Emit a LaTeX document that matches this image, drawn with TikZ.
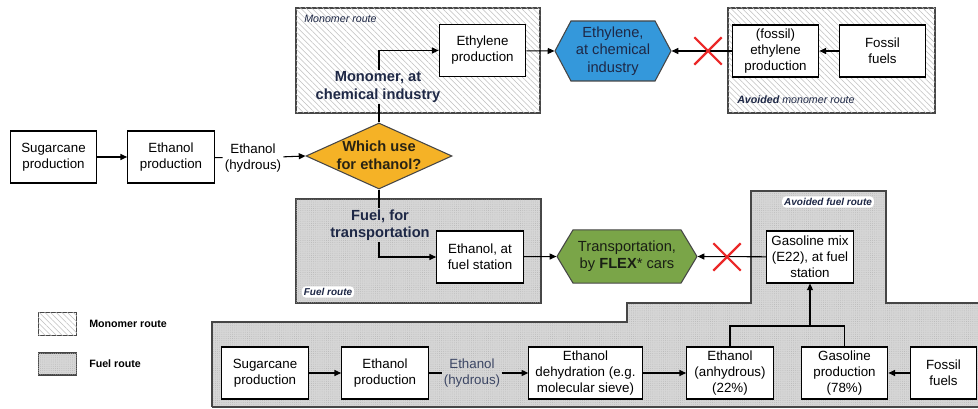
\documentclass[tikz,border=0pt]{standalone}
\usepackage{fontspec}
\setmainfont{Liberation Sans}
\usetikzlibrary{shapes.geometric,shapes.symbols,shapes.misc,patterns.meta,arrows.meta}
\definecolor{ethblue}{RGB}{52,152,219}
\definecolor{flexgreen}{RGB}{122,165,72}
\definecolor{decorange}{RGB}{245,178,38}
\definecolor{fuelgray}{RGB}{214,214,214}
\definecolor{framegray}{RGB}{70,70,70}
\definecolor{navy}{RGB}{30,40,70}
\definecolor{xred}{RGB}{235,40,40}
\begin{document}
\begin{tikzpicture}[x=0.75pt,y=-0.75pt,
  every node/.style={font=\fontsize{10}{12}\selectfont},
  procbox/.style={draw=black, fill=white, line width=0.8pt, minimum width=65pt,
    minimum height=39pt, align=center, inner sep=1pt},
  flow/.style={line width=0.8pt, -{Triangle[length=5pt,width=4.5pt]}},
  plain/.style={line width=0.8pt},
  monoregion/.style={draw=framegray, line width=0.8pt, fill=white,
    postaction={pattern={Lines[angle=-45,distance=3pt,line width=0.4pt]}, pattern color=gray!50}},
  fuelregion/.style={fill=fuelgray,
    postaction={pattern={Dots[distance=1.6pt,radius=0.3pt]}, pattern color=gray!60}},
  steplabel/.style={align=center, inner sep=1pt, text=navy,
    font=\bfseries\fontsize{11}{13}\selectfont},
  flowtext/.style={align=center, inner sep=1.5pt},
  routetag/.style={fill=white, rounded corners=3pt, inner sep=1.5pt, text=navy,
    font=\bfseries\itshape\fontsize{7.5}{9}\selectfont},
  redx/.style={cross out, draw=xred, line width=1.6pt, minimum width=19pt,
    minimum height=19pt, inner sep=0pt},
  legtext/.style={anchor=west, inner sep=0pt, font=\bfseries\fontsize{8}{10}\selectfont}
]
\useasboundingbox (0,0) rectangle (978,409);

% ---------- regions ----------
\draw[monoregion] (296,8) rectangle (540,113);
\draw[monoregion] (728,8) rectangle (935,113);
\draw[fuelregion, draw=framegray, line width=0.8pt] (296,199) rectangle (541,303);
\fill[fuelregion] (212,322) -- (627,322) -- (627,303) -- (751,303) -- (751,191)
  -- (886,191) -- (886,303) -- (978,303) -- (978,407) -- (212,407) -- cycle;
\draw[framegray, line width=0.8pt] (978,303) -- (886,303) -- (886,191) -- (751,191)
  -- (751,303) -- (627,303) -- (627,322) -- (212,322) -- (212,407);
\draw[framegray, line width=1.6pt] (212,407) -- (978,407);

% region tags
\node[anchor=west, inner sep=0pt, text=navy, font=\itshape\fontsize{8}{10}\selectfont]
  (tagmono) at (304,19) {Monomer route};
\node[anchor=west, inner sep=0pt, text=navy, font=\itshape\fontsize{8}{10}\selectfont]
  (tagavmono) at (737,100) {\textbf{Avoided} monomer route};
\node[routetag] (tagfuel) at (328,292) {Fuel route};
\node[routetag] (tagavfuel) at (828,202) {Avoided fuel route};

% ---------- top row ----------
\node[procbox] (sug1) at (53.5,157) {Sugarcane\\production};
\node[procbox] (eth1) at (171,157) {Ethanol\\production};
\node[flowtext] (hyd1) at (253,158) {Ethanol\\(hydrous)};
\node[diamond, draw=framegray, fill=decorange, line width=0.8pt, minimum width=109.5pt,
  minimum height=49.5pt, inner sep=0pt] (dia) at (379,156) {};
\node[align=center, inner sep=0pt, text={rgb,255:red,40;green,35;blue,20},
  font=\bfseries\fontsize{11}{13.5}\selectfont] (diatxt) at (379,155) {Which use\\for ethanol?};

\node[steplabel] (monlab) at (378,87) {Monomer, at\\chemical industry};
\node[steplabel] (fuellab) at (380,225) {Fuel, for\\transportation};

\node[procbox] (ethprod) at (482.5,50.5) {Ethylene\\production};
\node[signal, signal to=east and west, signal pointer angle=124, draw=framegray,
  fill=ethblue, line width=0.8pt, minimum width=87pt, minimum height=45pt, inner sep=0pt,
  align=center, text=navy, font=\fontsize{11}{13}\selectfont] (ethhex) at (613,51)
  {Ethylene,\\at chemical\\industry};
\node[procbox] (fosseth) at (775.5,51) {(fossil)\\ethylene\\production};
\node[procbox] (foss1) at (882.5,51) {Fossil\\fuels};

\node[procbox] (ethfs) at (480,257) {Ethanol, at\\fuel station};
\node[signal, signal to=east and west, signal pointer angle=118, draw=framegray,
  fill=flexgreen, line width=0.8pt, minimum width=105pt, minimum height=40pt, inner sep=0pt,
  align=center, text={rgb,255:red,25;green,30;blue,20}, font=\fontsize{11}{13}\selectfont]
  (flexhex) at (627,256.5) {Transportation,\\by \textbf{FLEX}* cars};
\node[procbox] (gasmix) at (810,257) {Gasoline mix\\(E22), at fuel\\station};

% ---------- bottom row ----------
\node[procbox] (sug2) at (265,373) {Sugarcane\\production};
\node[procbox] (eth2) at (385,373) {Ethanol\\production};
\node[flowtext, text={rgb,255:red,60;green,70;blue,100}] (hyd2) at (472,373) {Ethanol\\(hydrous)};
\node[procbox, minimum width=85pt] (dehyd) at (585.5,373) {Ethanol\\dehydration (e.g.\\molecular sieve)};
\node[procbox] (anhyd) at (730,373) {Ethanol\\(anhydrous)\\(22\%)};
\node[procbox] (gasprod) at (844.5,373) {Gasoline\\production\\(78\%)};
\node[procbox, minimum width=50pt] (foss2) at (943.5,373) {Fossil\\fuels};
\coordinate (jn) at (810,326);

% ---------- legend ----------
\node[monoregion, minimum width=29pt, minimum height=17.5pt, inner sep=0pt] (legmono) at (57.5,324) {};
\node[legtext] (legmonotxt) at (89,324) {Monomer route};
\node[fuelregion, draw=framegray, line width=0.8pt, minimum width=29pt, minimum height=16.5pt,
  inner sep=0pt] (legfuel) at (57.5,364) {};
\node[legtext] (legfueltxt) at (89,364) {Fuel route};

% ---------- connectors ----------
\draw[flow] (sug1) -- (eth1);
\draw[plain] (eth1) -- (hyd1);
\draw[flow] (hyd1) -- (dia.west);
\draw[plain] (dia.north) -- (dia.north |- monlab.south);
\draw[flow] (dia.north |- monlab.north) |- (ethprod.west);
\draw[flow] (ethprod) -- (ethhex.west);
\draw[flow] (fosseth) -- (ethhex.east);
\draw[flow] (foss1) -- (fosseth);
\draw[plain] (dia.south) -- (dia.south |- fuellab.north);
\draw[flow] (dia.south |- fuellab.south) |- (ethfs.west);
\draw[flow] (ethfs) -- (flexhex.west);
\draw[flow] (gasmix) -- (flexhex.east);

\draw[flow] (sug2) -- (eth2);
\draw[plain] (eth2) -- (hyd2);
\draw[flow] (hyd2) -- (dehyd);
\draw[flow] (dehyd) -- (anhyd);
\draw[flow] (foss2) -- (gasprod);
\draw[plain] (anhyd.north) |- (jn) -| (gasprod.north);
\draw[flow] (jn) -- (gasmix.south);

% red crosses
\node[redx] (xmono) at (708,51) {};
\node[redx] (xfuel) at (727,257) {};
\end{tikzpicture}
\end{document}
